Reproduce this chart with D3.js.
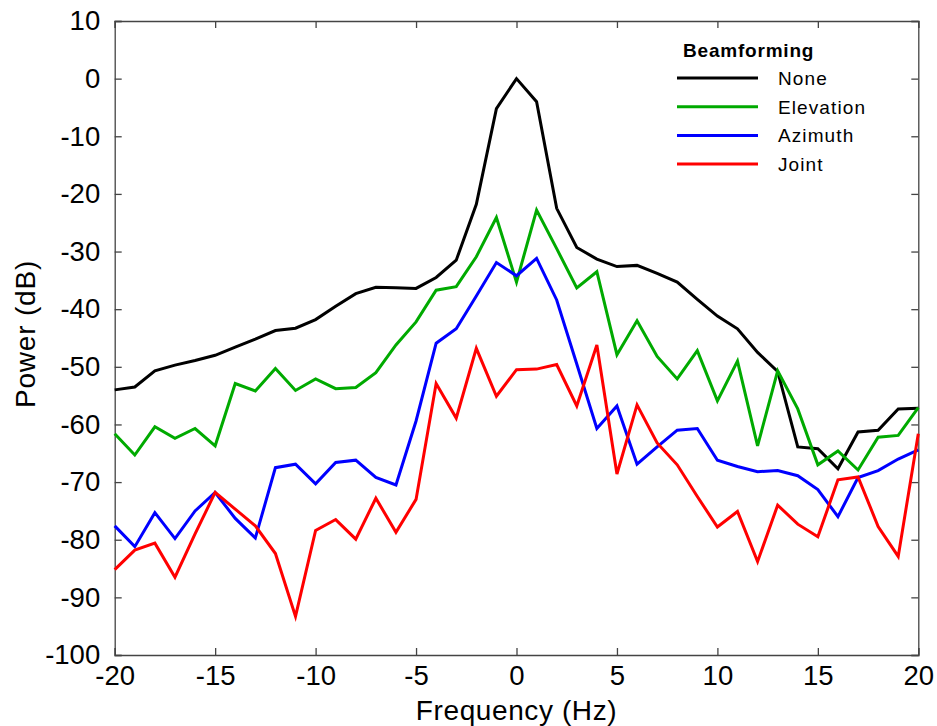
<!DOCTYPE html>
<html>
<head>
<meta charset="utf-8">
<script src="https://cdn.jsdelivr.net/npm/d3@7"></script>
<style>
  body { margin: 0; background: #fff; }
  svg text { font-family: "Liberation Sans", Arial, sans-serif; fill: #000; }
</style>
</head>
<body>
<div id="container"></div>
<script>
const height = 726;
const width = 937;

const freqs = d3.range(-20, 21);
const powerNone = [-54, -53.5, -50.7, -49.7, -48.9, -48, -46.6, -45.2, -43.7, -43.3, -41.8, -39.5, -37.3, -36.2, -36.3, -36.4, -34.5, -31.5, -21.8, -5.2, 0, -4, -22.5, -29.3, -31.3, -32.6, -32.4, -33.8, -35.3, -38.3, -41.2, -43.4, -47.5, -50.8, -63.9, -64.2, -67.7, -61.3, -61, -57.3, -57.2];
const powerElevation = [-61.6, -65.3, -60.4, -62.4, -60.7, -63.7, -52.9, -54.2, -50.3, -54.1, -52.1, -53.8, -53.6, -51, -46.2, -42.2, -36.7, -36.1, -30.9, -24.1, -35.3, -22.8, -29.5, -36.3, -33.5, -47.9, -42, -48.2, -52.1, -47.2, -55.9, -49, -63.7, -50.7, -57.3, -67, -64.6, -67.9, -62.2, -61.9, -57.1];
const powerAzimuth = [-77.6, -81.2, -75.3, -79.8, -75, -71.8, -76.3, -79.7, -67.5, -66.9, -70.3, -66.6, -66.2, -69.2, -70.5, -59.4, -45.9, -43.4, -37.7, -31.9, -34.2, -31.2, -38.4, -49.5, -60.7, -56.8, -66.9, -63.9, -61, -60.7, -66.2, -67.3, -68.2, -68, -68.9, -71.3, -76, -69.2, -68, -66, -64.4];
const powerJoint = [-85.2, -81.8, -80.6, -86.5, -79, -71.8, -74.7, -77.6, -82.4, -93.3, -78.4, -76.5, -79.9, -72.8, -78.7, -73, -52.9, -58.9, -46.8, -55.1, -50.5, -50.4, -49.6, -56.8, -46.2, -68.6, -56.6, -63.2, -67, -72.5, -77.8, -75.1, -83.8, -74, -77.3, -79.5, -69.6, -69.1, -77.7, -82.9, -61.6];

const seriesNames = ["None", "Elevation", "Azimuth", "Joint"];
const seriesColors = ["#000000", "#00aa00", "#0000ff", "#ff0000"];
const seriesValues = [powerNone, powerElevation, powerAzimuth, powerJoint];

const xTicks = [-20, -15, -10, -5, 0, 5, 10, 15, 20];
const yTicks = d3.range(-100, 11, 10);

const margin = {top: 21, right: 18.7, bottom: 71, left: 114.7};

const svg = d3.select("#container")
              .append("svg")
              .attr("width", width)
              .attr("height", height);

const x = d3.scaleLinear()
            .domain([-20, 20])
            .range([margin.left, width - margin.right]);
const y = d3.scaleLinear()
            .domain([-100, 10])
            .range([height - margin.bottom, margin.top]);

const tickLen = 7;
const fmt = d => String(d); // plain hyphen minus like the original

// axes with inward ticks, mirrored on top and right
svg.append("g")
   .attr("transform", "translate(0," + (height - margin.bottom) + ")")
   .call(d3.axisBottom(x).tickValues(xTicks).tickSize(-tickLen).tickPadding(10).tickFormat(fmt))
   .call(g => g.selectAll("text").style("font-size", "27.5px"));
svg.append("g")
   .attr("transform", "translate(0," + margin.top + ")")
   .call(d3.axisTop(x).tickValues(xTicks).tickSize(-tickLen).tickFormat(""));
svg.append("g")
   .attr("transform", "translate(" + margin.left + ",0)")
   .call(d3.axisLeft(y).tickValues(yTicks).tickSize(-tickLen).tickPadding(14.5).tickFormat(fmt))
   .call(g => g.selectAll("text").style("font-size", "27.5px"));
svg.append("g")
   .attr("transform", "translate(" + (width - margin.right) + ",0)")
   .call(d3.axisRight(y).tickValues(yTicks).tickSize(-tickLen).tickFormat(""));

svg.selectAll(".domain, .tick line")
   .attr("stroke", "#444")
   .attr("stroke-width", 1.3);

// axis titles
svg.append("text")
   .attr("x", (margin.left + width - margin.right) / 2)
   .attr("y", 720)
   .attr("text-anchor", "middle")
   .style("font-size", "28px")
   .style("letter-spacing", "0.6px")
   .text("Frequency (Hz)");
svg.append("text")
   .attr("transform", "translate(35," + ((margin.top + height - margin.bottom) / 2 - 4) + ") rotate(-90)")
   .attr("text-anchor", "middle")
   .style("font-size", "28px")
   .style("letter-spacing", "0.8px")
   .text("Power (dB)");

// data lines
const line = d3.line()
               .x((d, i) => x(freqs[i]))
               .y(d => y(d));

svg.append("g")
   .selectAll("path")
   .data(seriesValues)
   .enter()
   .append("path")
   .attr("d", line)
   .attr("fill", "none")
   .attr("stroke", (d, i) => seriesColors[i])
   .attr("stroke-width", 3)
   .attr("stroke-linejoin", "miter");

// legend
const legend = svg.append("g").attr("transform", "translate(677,0)");
legend.append("text")
      .attr("x", 6)
      .attr("y", 57)
      .style("font-size", "19px")
      .style("font-weight", "bold")
      .style("letter-spacing", "0.8px")
      .text("Beamforming");
const items = legend.selectAll(".item")
                    .data(seriesNames)
                    .enter()
                    .append("g")
                    .attr("transform", (d, i) => "translate(0," + (78 + i * 28.7) + ")");
items.append("line")
     .attr("x1", 0)
     .attr("x2", 81)
     .attr("stroke", (d, i) => seriesColors[i])
     .attr("stroke-width", 3);
items.append("text")
      .attr("x", 101)
      .attr("y", 7)
      .style("font-size", "19px")
      .style("letter-spacing", "1.1px")
      .text(d => d);
</script>
</body>
</html>
